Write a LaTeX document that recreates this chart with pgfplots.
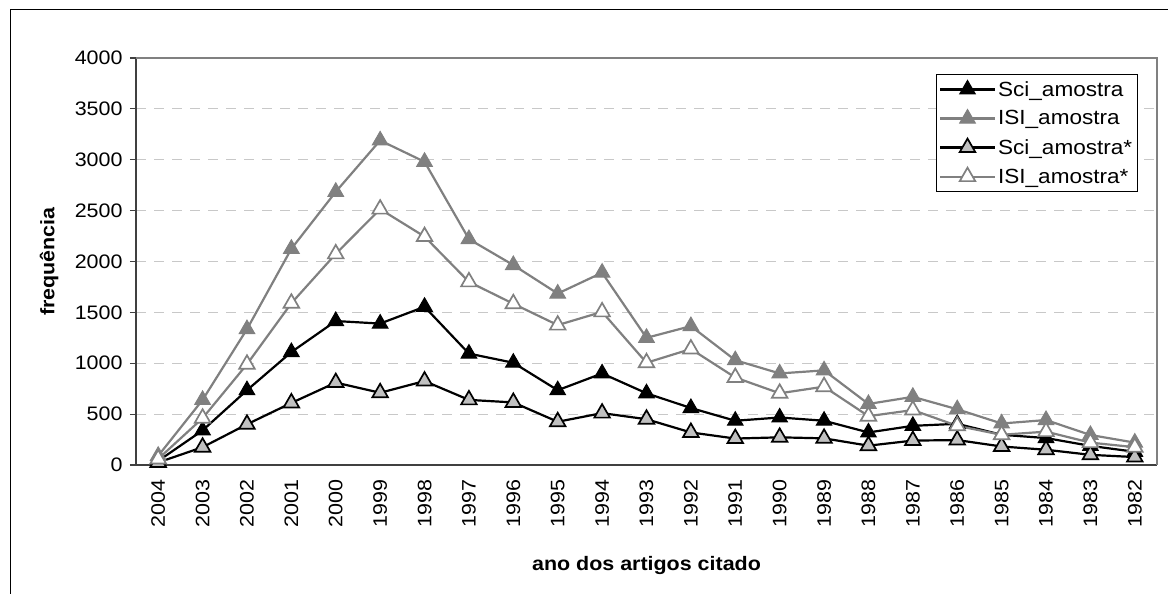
\documentclass[border=0pt]{standalone}
\usepackage{fontspec}
\setmainfont[FakeStretch=1.1]{Liberation Sans}
\usepackage{pgfplots}
\usepackage{pgfplotstable}
\pgfplotsset{compat=1.18}
\definecolor{isigray}{HTML}{808080}
\definecolor{scifill}{HTML}{C0C0C0}
\definecolor{gridc}{HTML}{C8C8C8}
\definecolor{axisc}{HTML}{404040}
\newcommand\tickfont{\fontsize{19.5bp}{20bp}\selectfont}
\newcommand\legfont{\fontsize{20.5bp}{21bp}\selectfont}
\newcommand\labfont{\fontsize{19.5bp}{20bp}\selectfont\bfseries}

\pgfplotstableread{
idx year sci isi scis isis
0 2004 40 90 25 60
1 2003 340 640 175 460
2 2002 735 1335 400 990
3 2001 1110 2125 610 1590
4 2000 1415 2685 810 2075
5 1999 1390 3190 710 2515
6 1998 1555 2980 825 2245
7 1997 1095 2220 640 1800
8 1996 1005 1965 615 1585
9 1995 735 1685 425 1375
10 1994 900 1890 510 1505
11 1993 705 1250 450 1005
12 1992 560 1365 320 1140
13 1991 435 1030 260 860
14 1990 467 900 272 705
15 1989 435 930 262 770
16 1988 320 600 190 480
17 1987 385 670 240 540
18 1986 405 548 245 385
19 1985 297 408 182 297
20 1984 265 442 150 328
21 1983 188 295 100 220
22 1982 130 220 78 175
}\datatable

\begin{document}
\begin{tikzpicture}
\path[use as bounding box] (0,0) rectangle (1168bp,-594bp);
\draw[black, line width=1bp] (10bp,-594bp) -- (10bp,-9.5bp) -- (1168bp,-9.5bp);
\begin{axis}[
  at={(136bp,-465bp)}, anchor=south west,
  scale only axis, width=1021bp, height=407bp,
  xmin=-0.5, xmax=22.5, ymin=0, ymax=4000,
  axis x line*=bottom, axis y line*=left,
  axis line style={draw=axisc, line width=1.5bp, -},
  xtick={0,...,22},
  xticklabels={2004,2003,2002,2001,2000,1999,1998,1997,1996,1995,1994,1993,1992,1991,1990,1989,1988,1987,1986,1985,1984,1983,1982},
  major x tick style={draw=none},
  extra x ticks={-0.5,0.5,...,22.5},
  extra x tick labels={},
  extra x tick style={major tick length=6bp, tick align=outside, major tick style={draw=axisc, line width=1.2bp}, grid=none},
  ytick={0,500,...,4000},
  tick align=outside,
  major tick length=6bp,
  y tick style={draw=axisc, line width=1.2bp},
  ymajorgrids,
  grid style={draw=gridc, line width=1bp, dash pattern=on 10bp off 8bp},
  /pgf/number format/assume math mode=true,
  /pgf/number format/1000 sep={},
  yticklabel={\tickfont\pgfmathprintnumber{\tick}},
  y tick label style={xshift=-4bp},
  xticklabel shift=5bp,
  x tick label style={rotate=90, anchor=east, font=\tickfont},
  ylabel={frequência},
  xlabel={ano dos artigos citado},
  label style={font=\labfont},
  ylabel style={at={(axis description cs:-0.0852,0.5)}, anchor=center},
  xlabel style={at={(axis description cs:0.5,-0.248)}, anchor=center},
  legend style={at={(0.981,0.961)}, anchor=north east, draw=black, line width=0.8bp,
    font=\legfont, cells={anchor=west}, row sep=9bp,
    inner xsep=3bp, inner ysep=5bp},
  legend image code/.code={\draw[mark repeat=2, mark phase=2] plot coordinates {(0bp,0bp) (27.5bp,0bp) (55bp,0bp)};},
  every axis plot/.append style={line width=2.2bp, mark size=9bp},
  clip=false,
]
\addplot[black, mark=triangle*, mark options={fill=black, draw=black, line width=1bp}] table[x=idx, y=sci] {\datatable};
\addlegendentry{Sci\_amostra}
\addplot[isigray, mark=triangle*, mark options={fill=isigray, draw=isigray, line width=1bp}] table[x=idx, y=isi] {\datatable};
\addlegendentry{ISI\_amostra}
\addplot[black, mark=triangle*, mark options={fill=scifill, draw=black, line width=1.7bp}] table[x=idx, y=scis] {\datatable};
\addlegendentry{Sci\_amostra*}
\addplot[isigray, mark=triangle*, mark options={fill=white, draw=isigray, line width=1.7bp}] table[x=idx, y=isis] {\datatable};
\addlegendentry{ISI\_amostra*}
\draw[isigray, line width=1.5bp] (rel axis cs:0,1) -- (rel axis cs:1,1) -- (rel axis cs:1,0);
\end{axis}
\end{tikzpicture}
\end{document}
